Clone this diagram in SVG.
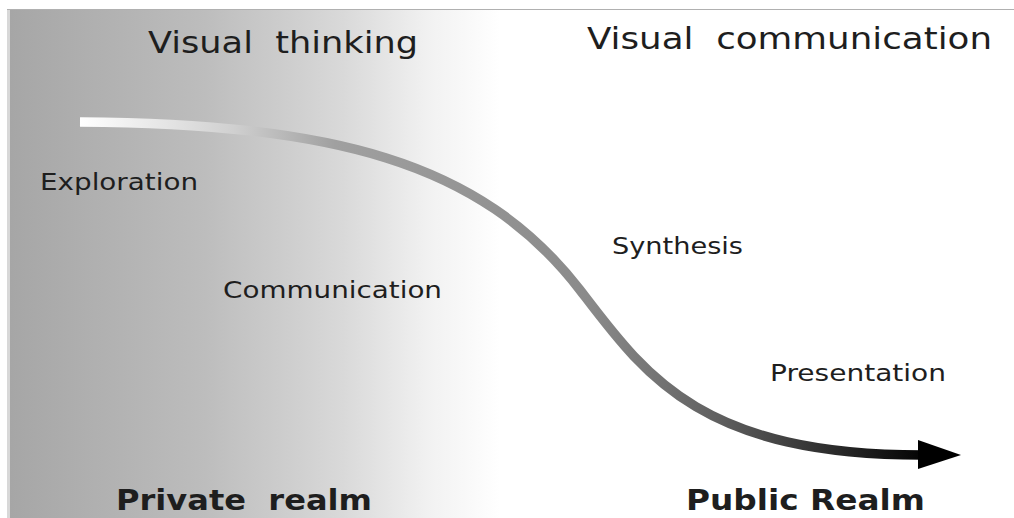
<svg xmlns="http://www.w3.org/2000/svg" width="1014" height="518" viewBox="0 0 1014 518">
<defs>
<linearGradient id="bg" gradientUnits="userSpaceOnUse" x1="10" y1="0" x2="500" y2="0">
<stop offset="0" stop-color="#a6a6a6"/>
<stop offset="0.4" stop-color="#bdbdbd"/>
<stop offset="0.68" stop-color="#d9d9d9"/>
<stop offset="0.86" stop-color="#f2f2f2"/>
<stop offset="1" stop-color="#ffffff"/>
</linearGradient>
<linearGradient id="curve" gradientUnits="userSpaceOnUse" x1="80" y1="0" x2="930" y2="0">
<stop offset="0" stop-color="#ffffff"/>
<stop offset="0.18" stop-color="#d0d0d0"/>
<stop offset="0.3" stop-color="#a0a0a0"/>
<stop offset="0.6" stop-color="#8a8a8a"/>
<stop offset="0.75" stop-color="#606060"/>
<stop offset="1" stop-color="#000000"/>
</linearGradient>
</defs>
<style>
.lbl{font-family:"DejaVu Sans","Verdana",sans-serif;fill:#1e1e1e;white-space:pre}
.big{font-size:30px}
.mid{font-size:23px}
.bold{font-size:28px;font-weight:bold}
</style>
<rect x="0" y="0" width="1014" height="518" fill="#ffffff"/>
<g id="background">
<rect x="7" y="9" width="1007" height="509" fill="url(#bg)"/>
<rect x="7" y="9" width="3" height="509" fill="#d8d8d8"/>
<line x1="7" y1="9.5" x2="1014" y2="9.5" stroke="#b0b0b0" stroke-width="1"/>
</g>
<g id="connectors">
<path d="M80 122 C330 124 480 160 580 290 C645 375 700 455 922 455" fill="none" stroke="url(#curve)" stroke-width="9.5"/>
<polygon points="918,440 961,455 918,469" fill="#000000"/>
</g>
<g id="visual-thinking"><text class="lbl big" x="148" y="53" textLength="270" lengthAdjust="spacingAndGlyphs" xml:space="preserve">Visual  thinking</text></g>
<g id="visual-communication"><text class="lbl big" x="587" y="49" textLength="405" lengthAdjust="spacingAndGlyphs" xml:space="preserve">Visual  communication</text></g>
<g id="exploration"><text class="lbl mid" x="40" y="190" textLength="158" lengthAdjust="spacingAndGlyphs">Exploration</text></g>
<g id="communication"><text class="lbl mid" x="223" y="298" textLength="219" lengthAdjust="spacingAndGlyphs">Communication</text></g>
<g id="synthesis"><text class="lbl mid" x="612" y="254" textLength="131" lengthAdjust="spacingAndGlyphs">Synthesis</text></g>
<g id="presentation"><text class="lbl mid" x="770" y="381" textLength="176" lengthAdjust="spacingAndGlyphs">Presentation</text></g>
<g id="private-realm"><text class="lbl bold" x="116" y="510" textLength="256" lengthAdjust="spacingAndGlyphs" xml:space="preserve">Private  realm</text></g>
<g id="public-realm"><text class="lbl bold" x="686" y="510" textLength="239" lengthAdjust="spacingAndGlyphs">Public Realm</text></g>
</svg>
